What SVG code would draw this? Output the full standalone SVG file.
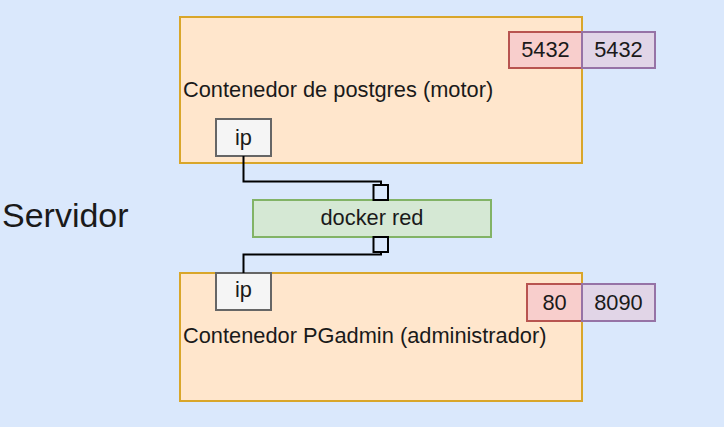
<svg xmlns="http://www.w3.org/2000/svg" width="724" height="427" viewBox="0 0 724 427">
<style>
text{font-family:"Liberation Sans",Arial,sans-serif;fill:#1a1a1a}
.cont{fill:#ffe6cc;stroke:#d9a62a;stroke-width:2}
.ip{fill:#f5f5f5;stroke:#666666;stroke-width:2}
.pin{fill:#f8cecc;stroke:#b85450;stroke-width:2}
.pout{fill:#e1d5e7;stroke:#9673a6;stroke-width:2}
.net{fill:#d5e8d4;stroke:#82b366;stroke-width:2}
.sq{fill:#dae8fc;stroke:#000;stroke-width:2}
.t{font-size:21.8px}
.c{text-anchor:middle}
.wire{fill:none;stroke:#000;stroke-width:2}
</style>
<rect width="724" height="427" fill="#dae8fc"/>
<g id="servidor"><text x="2" y="227" style="font-size:34px">Servidor</text></g>
<g id="postgres">
<rect class="cont" x="180" y="17" width="402" height="146"/>
<text class="t" x="183" y="97">Contenedor de postgres (motor)</text>
</g>
<g id="port-5432-in"><rect class="pin" x="509" y="32" width="73" height="36"/><text class="t c" x="545.5" y="57">5432</text></g>
<g id="port-5432-out"><rect class="pout" x="582" y="32" width="73" height="36"/><text class="t c" x="618.5" y="57">5432</text></g>
<g id="ip-postgres"><rect class="ip" x="216" y="119" width="55" height="37"/><text class="t c" x="243.5" y="145">ip</text></g>
<g id="docker-red">
<rect class="net" x="253" y="200" width="238" height="37"/>
<text class="t c" x="372" y="225">docker red</text>
</g>
<g id="sq-top"><rect class="sq" x="373.5" y="185" width="14.5" height="15"/></g>
<g id="sq-bottom"><rect class="sq" x="373.5" y="237" width="14.5" height="15"/></g>
<g id="pgadmin">
<rect class="cont" x="180" y="273" width="402" height="128"/>
<text class="t" x="183" y="343">Contenedor PGadmin (administrador)</text>
</g>
<g id="ip-pgadmin"><rect class="ip" x="216" y="273" width="55" height="37"/><text class="t c" x="243.5" y="297">ip</text></g>
<g id="port-80"><rect class="pin" x="527" y="284" width="55" height="37"/><text class="t c" x="554.5" y="309.5">80</text></g>
<g id="port-8090"><rect class="pout" x="582" y="284" width="73" height="37"/><text class="t c" x="618.5" y="309.5">8090</text></g>
<g id="connectors">
<path class="wire" d="M243.5 156 V181.5 H381 V185"/>
<path class="wire" d="M381 252 V254.5 H243.5 V273"/>
</g>
</svg>
